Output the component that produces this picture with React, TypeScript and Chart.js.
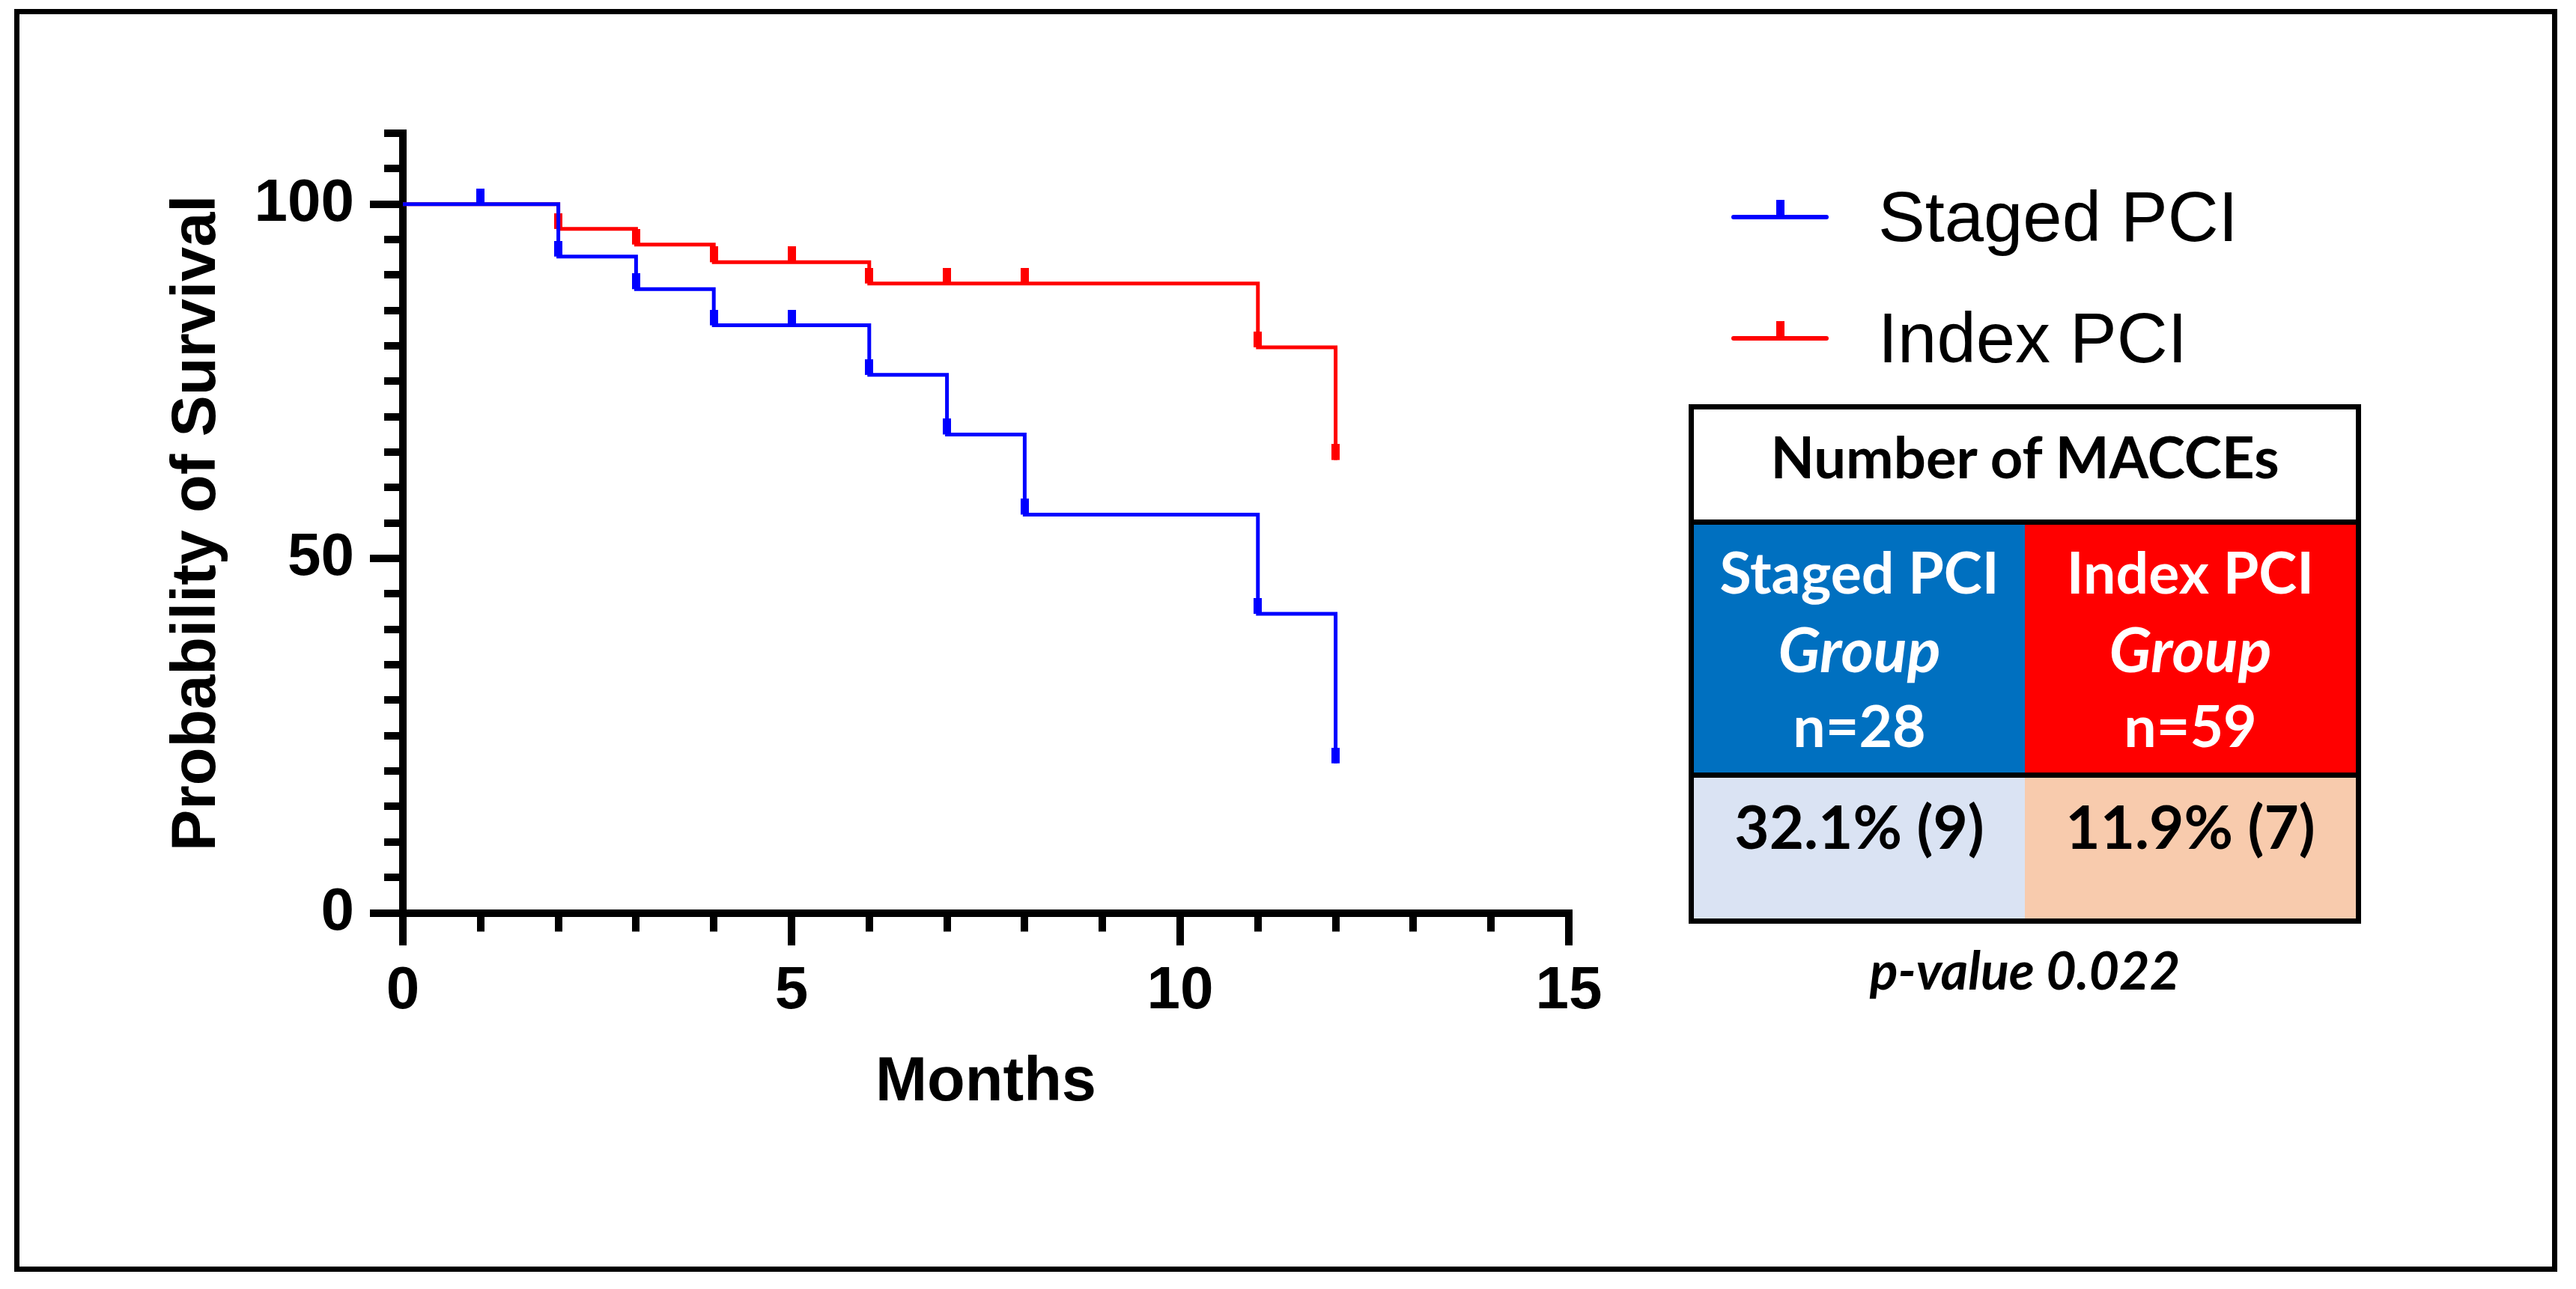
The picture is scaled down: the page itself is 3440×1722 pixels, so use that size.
import React, { useEffect, useRef } from 'react';
import { Chart, registerables } from 'chart.js';

Chart.register(...registerables);

// ---- data ----
const stagedMonths = [0, 2, 3, 4, 6, 7, 8, 11, 12];
const stagedSurvival = [100, 92.6, 88.0, 82.9, 75.9, 67.5, 56.2, 42.2, 21.1];
const stagedCensored = [1, 2, 3, 4, 5, 6, 7, 8, 11, 12];

const indexMonths = [0, 2, 3, 4, 6, 11, 12];
const indexSurvival = [100, 96.5, 94.3, 91.8, 88.8, 79.8, 63.9];
const indexCensored = [2, 3, 4, 5, 6, 7, 8, 11, 12];

const seriesNames = ['Staged PCI', 'Index PCI'];
const xTickLabels = [0, 5, 10, 15];
const yTickLabels = [0, 50, 100];
const groupSizes = [28, 59];
const macceRates = ['32.1% (9)', '11.9% (7)'];
const pValue = '0.022';

const BLUE = '#0000FF';
const RED = '#FF0000';
const ARIAL = '"Liberation Sans", Arial, sans-serif';
const CAL = 'Lato, "Open Sans", sans-serif';

function stepValue(m: number, months: number[], surv: number[]) {
  let v = surv[0];
  for (let i = 0; i < months.length; i++) if (months[i] <= m) v = surv[i];
  return v;
}

function makeTick(color: string) {
  const c = document.createElement('canvas');
  c.width = 11;
  c.height = 42;
  const g = c.getContext('2d')!;
  g.fillStyle = color;
  g.fillRect(0, 0, 11, 21);
  return c;
}

export default function App() {
  const ref = useRef<HTMLCanvasElement>(null);

  useEffect(() => {
    const blueTick = makeTick(BLUE);
    const redTick = makeTick(RED);
    const chart = new Chart(ref.current!, {
      type: 'line',
      data: {
        datasets: [
          {
            label: seriesNames[0],
            data: stagedMonths.map((m, i) => ({ x: m, y: stagedSurvival[i] })),
            borderColor: BLUE,
            backgroundColor: BLUE,
            borderWidth: 5,
            stepped: true,
            pointRadius: 0,
            fill: false,
            order: 1,
          },
          {
            label: seriesNames[0] + ' censored',
            data: stagedCensored.map((m) => ({ x: m, y: stepValue(m, stagedMonths, stagedSurvival) })),
            showLine: false,
            pointStyle: blueTick as any,
            pointRadius: 10,
            borderColor: BLUE,
            backgroundColor: BLUE,
            order: 0,
          },
          {
            label: seriesNames[1],
            data: indexMonths.map((m, i) => ({ x: m, y: indexSurvival[i] })),
            borderColor: RED,
            backgroundColor: RED,
            borderWidth: 5,
            stepped: true,
            pointRadius: 0,
            fill: false,
            order: 3,
          },
          {
            label: seriesNames[1] + ' censored',
            data: indexCensored.map((m) => ({ x: m, y: stepValue(m, indexMonths, indexSurvival) })),
            showLine: false,
            pointStyle: redTick as any,
            pointRadius: 10,
            borderColor: RED,
            backgroundColor: RED,
            order: 2,
          },
        ] as any,
      },
      options: {
        animation: false,
        responsive: false,
        devicePixelRatio: 1,
        events: [],
        layout: { padding: { left: 100, right: 1345, top: 178, bottom: 202.5 } },
        plugins: { legend: { display: false }, tooltip: { enabled: false } },
        scales: {
          x: {
            type: 'linear',
            min: 0,
            max: 15,
            ticks: {
              stepSize: 1,
              autoSkip: false,
              maxRotation: 0,
              padding: 14,
              color: '#000',
              font: { family: ARIAL, size: 80, weight: 'bold', lineHeight: 1.2 },
              callback: (v: any) => (xTickLabels.includes(Number(v)) ? String(v) : ''),
            },
            grid: {
              drawOnChartArea: false,
              drawTicks: true,
              tickLength: 43.5,
              lineWidth: 10,
              tickWidth: 10,
              color: '#000',
              tickColor: '#000',
              tickBorderDash: (ctx: any) => (xTickLabels.includes(ctx.tick?.value) ? [] : [19.5, 100]),
              tickBorderDashOffset: 0,
            } as any,
            border: { display: true, width: 10, color: '#000' },
            title: {
              display: true,
              text: 'Months',
              color: '#000',
              font: { family: ARIAL, size: 83, weight: 'bold', lineHeight: 1 },
              padding: { top: 0, bottom: 30.5 },
            },
            afterFit: (s: any) => {
              s.height = 300;
            },
          },
          y: {
            type: 'linear',
            min: 0,
            max: 110,
            ticks: {
              stepSize: 5,
              autoSkip: false,
              padding: 21,
              color: '#000',
              font: { family: ARIAL, size: 80, weight: 'bold', lineHeight: 1.2 },
              callback: (v: any) => (yTickLabels.includes(Number(v)) ? String(v) : ''),
            },
            grid: {
              drawOnChartArea: false,
              drawTicks: true,
              tickLength: 44,
              lineWidth: 10,
              tickWidth: 10,
              color: '#000',
              tickColor: '#000',
              tickBorderDash: (ctx: any) => (yTickLabels.includes(ctx.tick?.value) ? [] : [20, 19]),
              tickBorderDashOffset: (ctx: any) => (yTickLabels.includes(ctx.tick?.value) ? 0 : 20),
            } as any,
            border: { display: true, width: 10, color: '#000' },
            title: {
              display: true,
              text: 'Probability of Survival',
              color: '#000',
              font: { family: ARIAL, size: 83, weight: 'bold', lineHeight: 1 },
              padding: { top: 122.5, bottom: 0 },
            },
            afterFit: (s: any) => {
              s.width = 438;
            },
          },
        },
      } as any,
    });
    return () => chart.destroy();
  }, []);

  const abs = (l: number, t: number, w: number, h: number, extra: any = {}) => ({
    position: 'absolute' as const,
    left: l,
    top: t,
    width: w,
    height: h,
    ...extra,
  });

  const legendRow = (color: string, name: string, lineTop: number, textTop: number) => (
    <>
      <div style={abs(2312, lineTop, 130, 6, { background: color, borderRadius: 3 })} />
      <div style={abs(2372, lineTop - 20, 11, 21, { background: color })} />
      <div
        style={abs(2508, textTop, 700, 94, {
          fontFamily: ARIAL,
          fontSize: 94,
          lineHeight: '94px',
          color: '#000',
          whiteSpace: 'nowrap',
        })}
      >
        {name}
      </div>
    </>
  );

  const cellText = (extra: any = {}) => ({
    fontFamily: CAL,
    fontWeight: 700,
    textAlign: 'center' as const,
    whiteSpace: 'nowrap' as const,
    ...extra,
  });

  return (
    <div style={{ position: 'absolute', left: 0, top: 0, width: 3440, height: 1722, background: '#fff', overflow: 'hidden' }}>
      <canvas ref={ref} width={3440} height={1722} style={{ position: 'absolute', left: 0, top: 0, width: 3440, height: 1722 }} />
      <div style={abs(19, 12, 3396, 1687, { border: '7px solid #000', boxSizing: 'border-box' })} />

      {legendRow(BLUE, seriesNames[0], 287, 243)}
      {legendRow(RED, seriesNames[1], 449, 405)}

      <div style={abs(2255, 540, 898, 694, { border: '7px solid #000', boxSizing: 'border-box', background: '#fff' })}>
        <div style={abs(0, 0, 884, 147)}>
          <div style={abs(0, 25, 884, 76, cellText({ fontSize: 76, lineHeight: '76px', color: '#000' }))}>Number of MACCEs</div>
        </div>
        <div style={abs(0, 147, 884, 7, { background: '#000' })} />
        <div style={abs(0, 154, 442, 331, { background: '#0070C0' })}>
          <div style={abs(0, 11, 442, 308, cellText({ fontSize: 77, lineHeight: '102.5px', color: '#fff' }))}>
            <div>{seriesNames[0]}</div>
            <div style={{ fontStyle: 'italic', fontSize: 83 }}>Group</div>
            <div>n={groupSizes[0]}</div>
          </div>
        </div>
        <div style={abs(442, 154, 442, 331, { background: '#FF0000' })}>
          <div style={abs(0, 11, 442, 308, cellText({ fontSize: 77, lineHeight: '102.5px', color: '#fff' }))}>
            <div>{seriesNames[1]}</div>
            <div style={{ fontStyle: 'italic', fontSize: 83 }}>Group</div>
            <div>n={groupSizes[1]}</div>
          </div>
        </div>
        <div style={abs(0, 485, 884, 7, { background: '#000' })} />
        <div style={abs(0, 492, 442, 188, { background: '#DAE3F3' })}>
          <div style={abs(0, 24, 442, 80, cellText({ fontSize: 80, lineHeight: '80px', color: '#000' }))}>{macceRates[0]}</div>
        </div>
        <div style={abs(442, 492, 442, 188, { background: '#F8CBAD' })}>
          <div style={abs(0, 24, 442, 80, cellText({ fontSize: 80, lineHeight: '80px', color: '#000' }))}>{macceRates[1]}</div>
        </div>
      </div>

      <div style={abs(2255, 1260, 898, 70, cellText({ fontSize: 70, lineHeight: '70px', fontStyle: 'italic', color: '#000' }))}>
        p-value {pValue}
      </div>
    </div>
  );
}
